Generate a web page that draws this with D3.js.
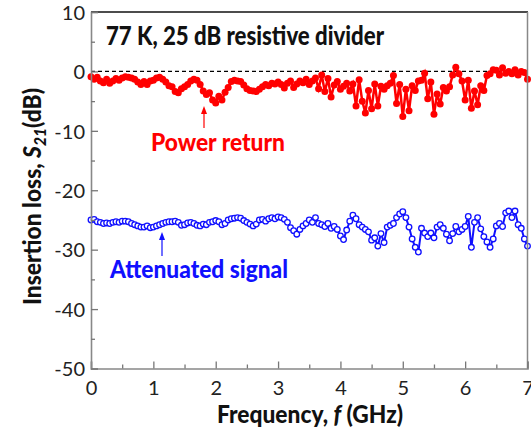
<!DOCTYPE html>
<html lang="en">
<head>
<meta charset="UTF-8">
<script src="https://d3js.org/d3.v7.min.js"></script>
<style>
  body { margin: 0; background: #fff; }
  text { font-family: Lato, "Open Sans", sans-serif; }
</style>
</head>
<body>
<script>
// frequency grid (GHz), step 0.05
var freqStep = 0.05;

// Power return, S21 in dB
var powerReturn = [
  -0.9, -1.3, -1.0, -1.6, -1.9, -1.3, -2.0, -1.6, -1.2, -1.5,
  -1.1, -0.9, -1.0, -1.1, -1.3, -1.8, -2.2, -1.7, -2.2, -1.6,
  -1.5, -1.1, -1.0, -1.3, -1.8, -2.4, -2.6, -3.4, -3.6, -2.9,
  -2.6, -2.2, -1.6, -1.3, -1.5, -2.2, -3.3, -3.9, -3.6, -4.8,
  -5.3, -4.2, -4.8, -3.5, -2.7, -1.7, -1.5, -1.6, -1.7, -2.3,
  -2.9, -3.2, -3.3, -3.4, -3.0, -2.6, -2.2, -2.4, -2.0, -2.1,
  -1.8, -2.2, -2.8, -2.0, -1.6, -2.7, -2.1, -1.6, -1.9, -1.3,
  -2.2, -1.6, -1.1, -2.9, -0.6, -3.4, -1.2, -4.3, -2.3, -1.7,
  -3.0, -2.5, -2.0, -3.3, -2.1, -5.8, -1.4, -5.0, -7.0, -3.2,
  -6.3, -2.1, -5.8, -2.5, -3.0, -2.4, -2.0, -0.7, -5.4, -2.2,
  -7.6, -3.0, -6.6, -2.4, -3.2, -1.6, -1.5, -0.3, -4.6, -1.8,
  -7.2, -3.8, -5.5, -2.7, -3.3, -2.6, -0.6, 0.7, -0.4, -1.6,
  -4.8, -1.5, -6.2, -3.3, -5.6, -2.4, -3.2, -0.7, -0.4, 0.3,
  0.2, -0.6, 0.6, -0.3, 0.0, -0.4, 0.3, -0.6, 0.0, -0.2,
  -1.3
];

// Attenuated signal, S21 in dB
var attenuated = [
  -25.0, -24.9, -25.3, -25.4, -25.6, -25.5, -25.6, -25.4, -25.3, -25.4,
  -25.2, -25.2, -25.3, -25.6, -25.8, -26.0, -26.2, -26.2, -26.0, -26.3,
  -26.2, -26.0, -25.8, -25.6, -25.4, -25.3, -25.3, -25.2, -25.4, -25.9,
  -25.8, -25.5, -25.4, -25.6, -25.9, -26.0, -25.7, -25.8, -25.4, -25.3,
  -25.1, -25.3, -25.8, -25.6, -25.0, -24.8, -24.7, -24.6, -24.7, -25.1,
  -25.4, -25.7, -26.0, -25.7, -25.0, -24.9, -25.2, -24.8, -24.6, -24.8,
  -24.5, -24.6, -24.9, -25.4, -26.3, -26.8, -27.4, -26.6, -26.0, -25.6,
  -25.0, -25.4, -24.6, -25.6, -25.8, -26.1, -25.6, -26.4, -26.1, -26.6,
  -27.7, -28.3, -26.7, -25.2, -24.2, -24.8, -25.8, -26.2, -26.6, -27.0,
  -28.4, -28.0, -29.4, -27.3, -28.8, -26.2, -25.9, -25.6, -24.6, -24.0,
  -23.6, -24.6, -26.2, -28.2, -29.6, -30.4, -26.4, -27.2, -27.8, -27.2,
  -28.0, -26.2, -25.8, -26.4, -27.4, -28.5, -27.3, -26.1, -27.0, -26.6,
  -26.1, -24.4, -29.6, -25.4, -24.6, -26.5, -27.8, -28.7, -29.6, -28.2,
  -26.0, -25.6, -26.1, -23.8, -23.5, -24.6, -23.5, -25.8, -26.4, -28.2,
  -29.4
];

var xTicks = [0, 1, 2, 3, 4, 5, 6, 7];
var yTicks = [10, 0, -10, -20, -30, -40, -50];

var W = 531, H = 432;
var plotL = 91, plotR = 527.5, plotT = 12, plotB = 368.5;

var x = d3.scaleLinear().domain([0, 7]).range([plotL, plotR]);
var y = d3.scaleLinear().domain([-50, 10]).range([plotB, plotT]);

var svg = d3.select("body").append("svg")
  .attr("width", W).attr("height", H);

function toPoints(arr) {
  return arr.map(function (v, i) { return { f: i * freqStep, v: v }; });
}
var redPts = toPoints(powerReturn);
var bluePts = toPoints(attenuated);

// zero reference line
svg.append("line")
  .attr("x1", x(0)).attr("x2", x(7))
  .attr("y1", y(0)).attr("y2", y(0))
  .attr("stroke", "#000").attr("stroke-width", 1.2)
  .attr("stroke-dasharray", "4,3");

var line = d3.line()
  .x(function (d) { return x(d.f); })
  .y(function (d) { return y(d.v); });

// red series
svg.append("path").datum(redPts)
  .attr("d", line).attr("fill", "none")
  .attr("stroke", "#ff0000").attr("stroke-width", 2.5);
svg.append("g").selectAll("circle").data(redPts).enter().append("circle")
  .attr("cx", function (d) { return x(d.f); })
  .attr("cy", function (d) { return y(d.v); })
  .attr("r", 3.5).attr("fill", "#ff0000");

// blue series
svg.append("path").datum(bluePts)
  .attr("d", line).attr("fill", "none")
  .attr("stroke", "#1010ff").attr("stroke-width", 2);
svg.append("g").selectAll("circle").data(bluePts).enter().append("circle")
  .attr("cx", function (d) { return x(d.f); })
  .attr("cy", function (d) { return y(d.v); })
  .attr("r", 2.8).attr("fill", "#fff")
  .attr("stroke", "#1010ff").attr("stroke-width", 1.3);

// frame: top black, right grey
svg.append("line").attr("x1", plotL).attr("x2", plotR + 0.5)
  .attr("y1", plotT).attr("y2", plotT).attr("stroke", "#111").attr("stroke-width", 1.3);
svg.append("line").attr("x1", plotR).attr("x2", plotR)
  .attr("y1", plotT).attr("y2", plotB).attr("stroke", "#888").attr("stroke-width", 1.5);

// axes
var fmt = function (d) { return String(d); };
svg.append("g").attr("transform", "translate(0," + plotB + ")")
  .call(d3.axisBottom(x).tickValues(xTicks).tickSize(-7).tickPadding(12).tickFormat(fmt));
svg.append("g").attr("transform", "translate(0," + plotB + ")")
  .call(d3.axisBottom(x).tickValues(d3.range(0.5, 7, 1)).tickSize(-4).tickFormat(""))
  .select(".domain").remove();
var yAxis = svg.append("g").attr("transform", "translate(" + plotL + ",0)")
  .call(d3.axisLeft(y).tickValues(yTicks).tickSize(-7).tickPadding(6).tickFormat(fmt));
svg.append("g").attr("transform", "translate(" + plotL + ",0)")
  .call(d3.axisLeft(y).tickValues(d3.range(-45, 10, 10)).tickSize(-4).tickFormat(""))
  .select(".domain").remove();

svg.selectAll(".domain").attr("stroke", "#888").attr("stroke-width", 1.6);
svg.selectAll(".tick line").attr("stroke", "#777").attr("stroke-width", 1.3);
svg.selectAll(".tick text").attr("font-size", 20).attr("fill", "#222")
  .attr("font-family", "Lato, sans-serif");
yAxis.selectAll(".tick text").attr("dy", "0.36em");

// texts
svg.append("text").attr("x", 106).attr("y", 45)
  .attr("font-size", 27).attr("font-weight", 900).attr("fill", "#111")
  .attr("textLength", 278).attr("lengthAdjust", "spacingAndGlyphs")
  .text("77 K, 25 dB resistive divider");

svg.append("text").attr("x", 151).attr("y", 151)
  .attr("font-size", 25).attr("font-weight", 900).attr("fill", "#ff0000")
  .attr("textLength", 134).attr("lengthAdjust", "spacingAndGlyphs")
  .text("Power return");

svg.append("text").attr("x", 110).attr("y", 278)
  .attr("font-size", 24).attr("font-weight", 900).attr("fill", "#1010ff")
  .attr("textLength", 178).attr("lengthAdjust", "spacingAndGlyphs")
  .text("Attenuated signal");

// arrows
function arrow(xp, y1, y2, color) {
  svg.append("line").attr("x1", xp).attr("x2", xp).attr("y1", y1).attr("y2", y2 + 4)
    .attr("stroke", color).attr("stroke-width", 1.2);
  svg.append("path")
    .attr("d", "M" + (xp - 3) + "," + (y2 + 8) + "L" + xp + "," + y2 + "L" + (xp + 3) + "," + (y2 + 8) + "Z")
    .attr("fill", color);
}
arrow(204, 128, 106, "#ff0000");
arrow(162, 256, 232, "#1010ff");

// axis titles
var xl = svg.append("text").attr("x", 217).attr("y", 423)
  .attr("font-size", 25).attr("font-weight", 900).attr("fill", "#111")
  .attr("textLength", 186).attr("lengthAdjust", "spacingAndGlyphs");
xl.append("tspan").text("Frequency, ");
xl.append("tspan").attr("font-style", "italic").text("f");
xl.append("tspan").text("\u00a0(GHz)");

var yl = svg.append("text")
  .attr("transform", "translate(41,305) rotate(-90)")
  .attr("font-size", 25).attr("font-weight", 900).attr("fill", "#111")
  .attr("textLength", 217).attr("lengthAdjust", "spacingAndGlyphs");
yl.append("tspan").text("Insertion loss, ");
yl.append("tspan").attr("font-style", "italic").text("S");
yl.append("tspan").attr("font-size", 17).attr("dy", 5).attr("font-style", "italic").text("21");
yl.append("tspan").attr("dy", -5).text("(dB)");
</script>
</body>
</html>
